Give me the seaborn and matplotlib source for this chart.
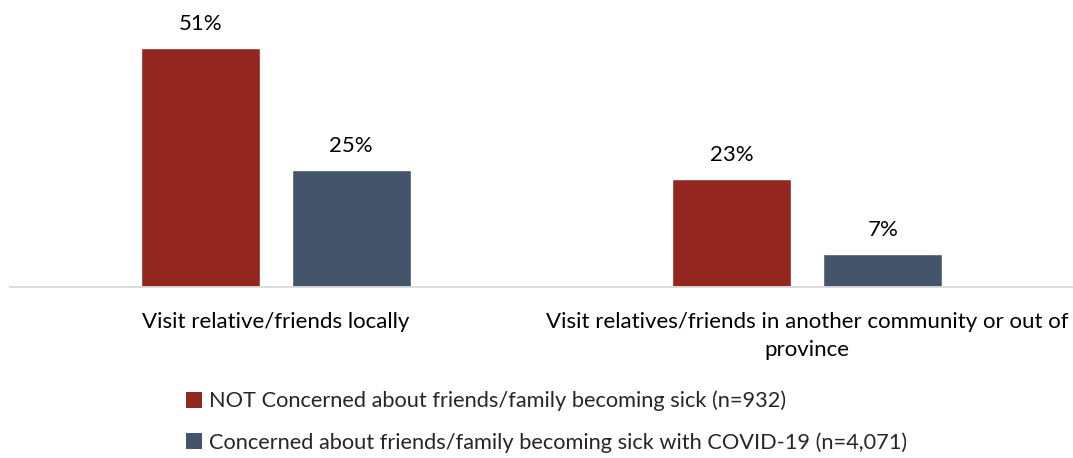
import matplotlib
matplotlib.use("Agg")
import matplotlib.pyplot as plt
import seaborn as sns
import pandas as pd
from matplotlib.patches import Patch

categories = [
    "Visit relative/friends locally",
    "Visit relatives/friends in another community or out of\nprovince",
]
groups = [
    "NOT Concerned about friends/family becoming sick (n=932)",
    "Concerned about friends/family becoming sick with COVID-19 (n=4,071)",
]
not_concerned = [51, 23]
concerned = [25, 7]
colors = ["#93271F", "#44546A"]

df = pd.DataFrame({
    "activity": categories * 2,
    "group": [groups[0]] * 2 + [groups[1]] * 2,
    "pct": not_concerned + concerned,
})

sns.set_theme(style="white")
plt.rcParams["font.family"] = ["Lato", "DejaVu Sans"]

W, H = 1073, 458
fig = plt.figure(figsize=(W / 100, H / 100), dpi=100)
# axes box in pixels: left 10, right 1073, baseline at y=287
ax_left, ax_right, ax_bottom_px, ax_top_px = 10, 1073, 287, 8
px_per_pct = 4.69
ax = fig.add_axes([ax_left / W, 1 - ax_bottom_px / H,
                   (ax_right - ax_left) / W, (ax_bottom_px - ax_top_px) / H])

sns.barplot(data=df, x="activity", y="pct", hue="group", order=categories,
            hue_order=groups, palette=colors, width=0.568, gap=0.21,
            saturation=1, ax=ax, legend=False)

ax.set_xlim(-0.5, 1.5)
ax.set_ylim(0, (ax_bottom_px - ax_top_px) / px_per_pct)
ax.set_xlabel("")
ax.set_ylabel("")
ax.set_yticks([])
for s in ["top", "right", "left"]:
    ax.spines[s].set_visible(False)
ax.spines["bottom"].set_color("#D9D9D9")
ax.spines["bottom"].set_linewidth(1.3)
ax.tick_params(axis="x", length=0, pad=18, labelsize=16, colors="#000000")
for lbl in ax.get_xticklabels():
    lbl.set_linespacing(1.5)

for cont in ax.containers:
    ax.bar_label(cont, labels=[f"{v:.0f}%" for v in cont.datavalues],
                 padding=10, fontsize=16, color="#000000")

# legend stacked below the axis
handles = [Patch(facecolor=c, edgecolor="none") for c in colors]
fig.legend(handles, groups, loc="upper left",
           bbox_to_anchor=(177 / W, 1 - 382 / H), frameon=False,
           fontsize=15.7, handlelength=0.75, handleheight=0.75,
           handletextpad=0.3, labelspacing=0.95, borderaxespad=0)

fig.savefig("out.png", dpi=100)
